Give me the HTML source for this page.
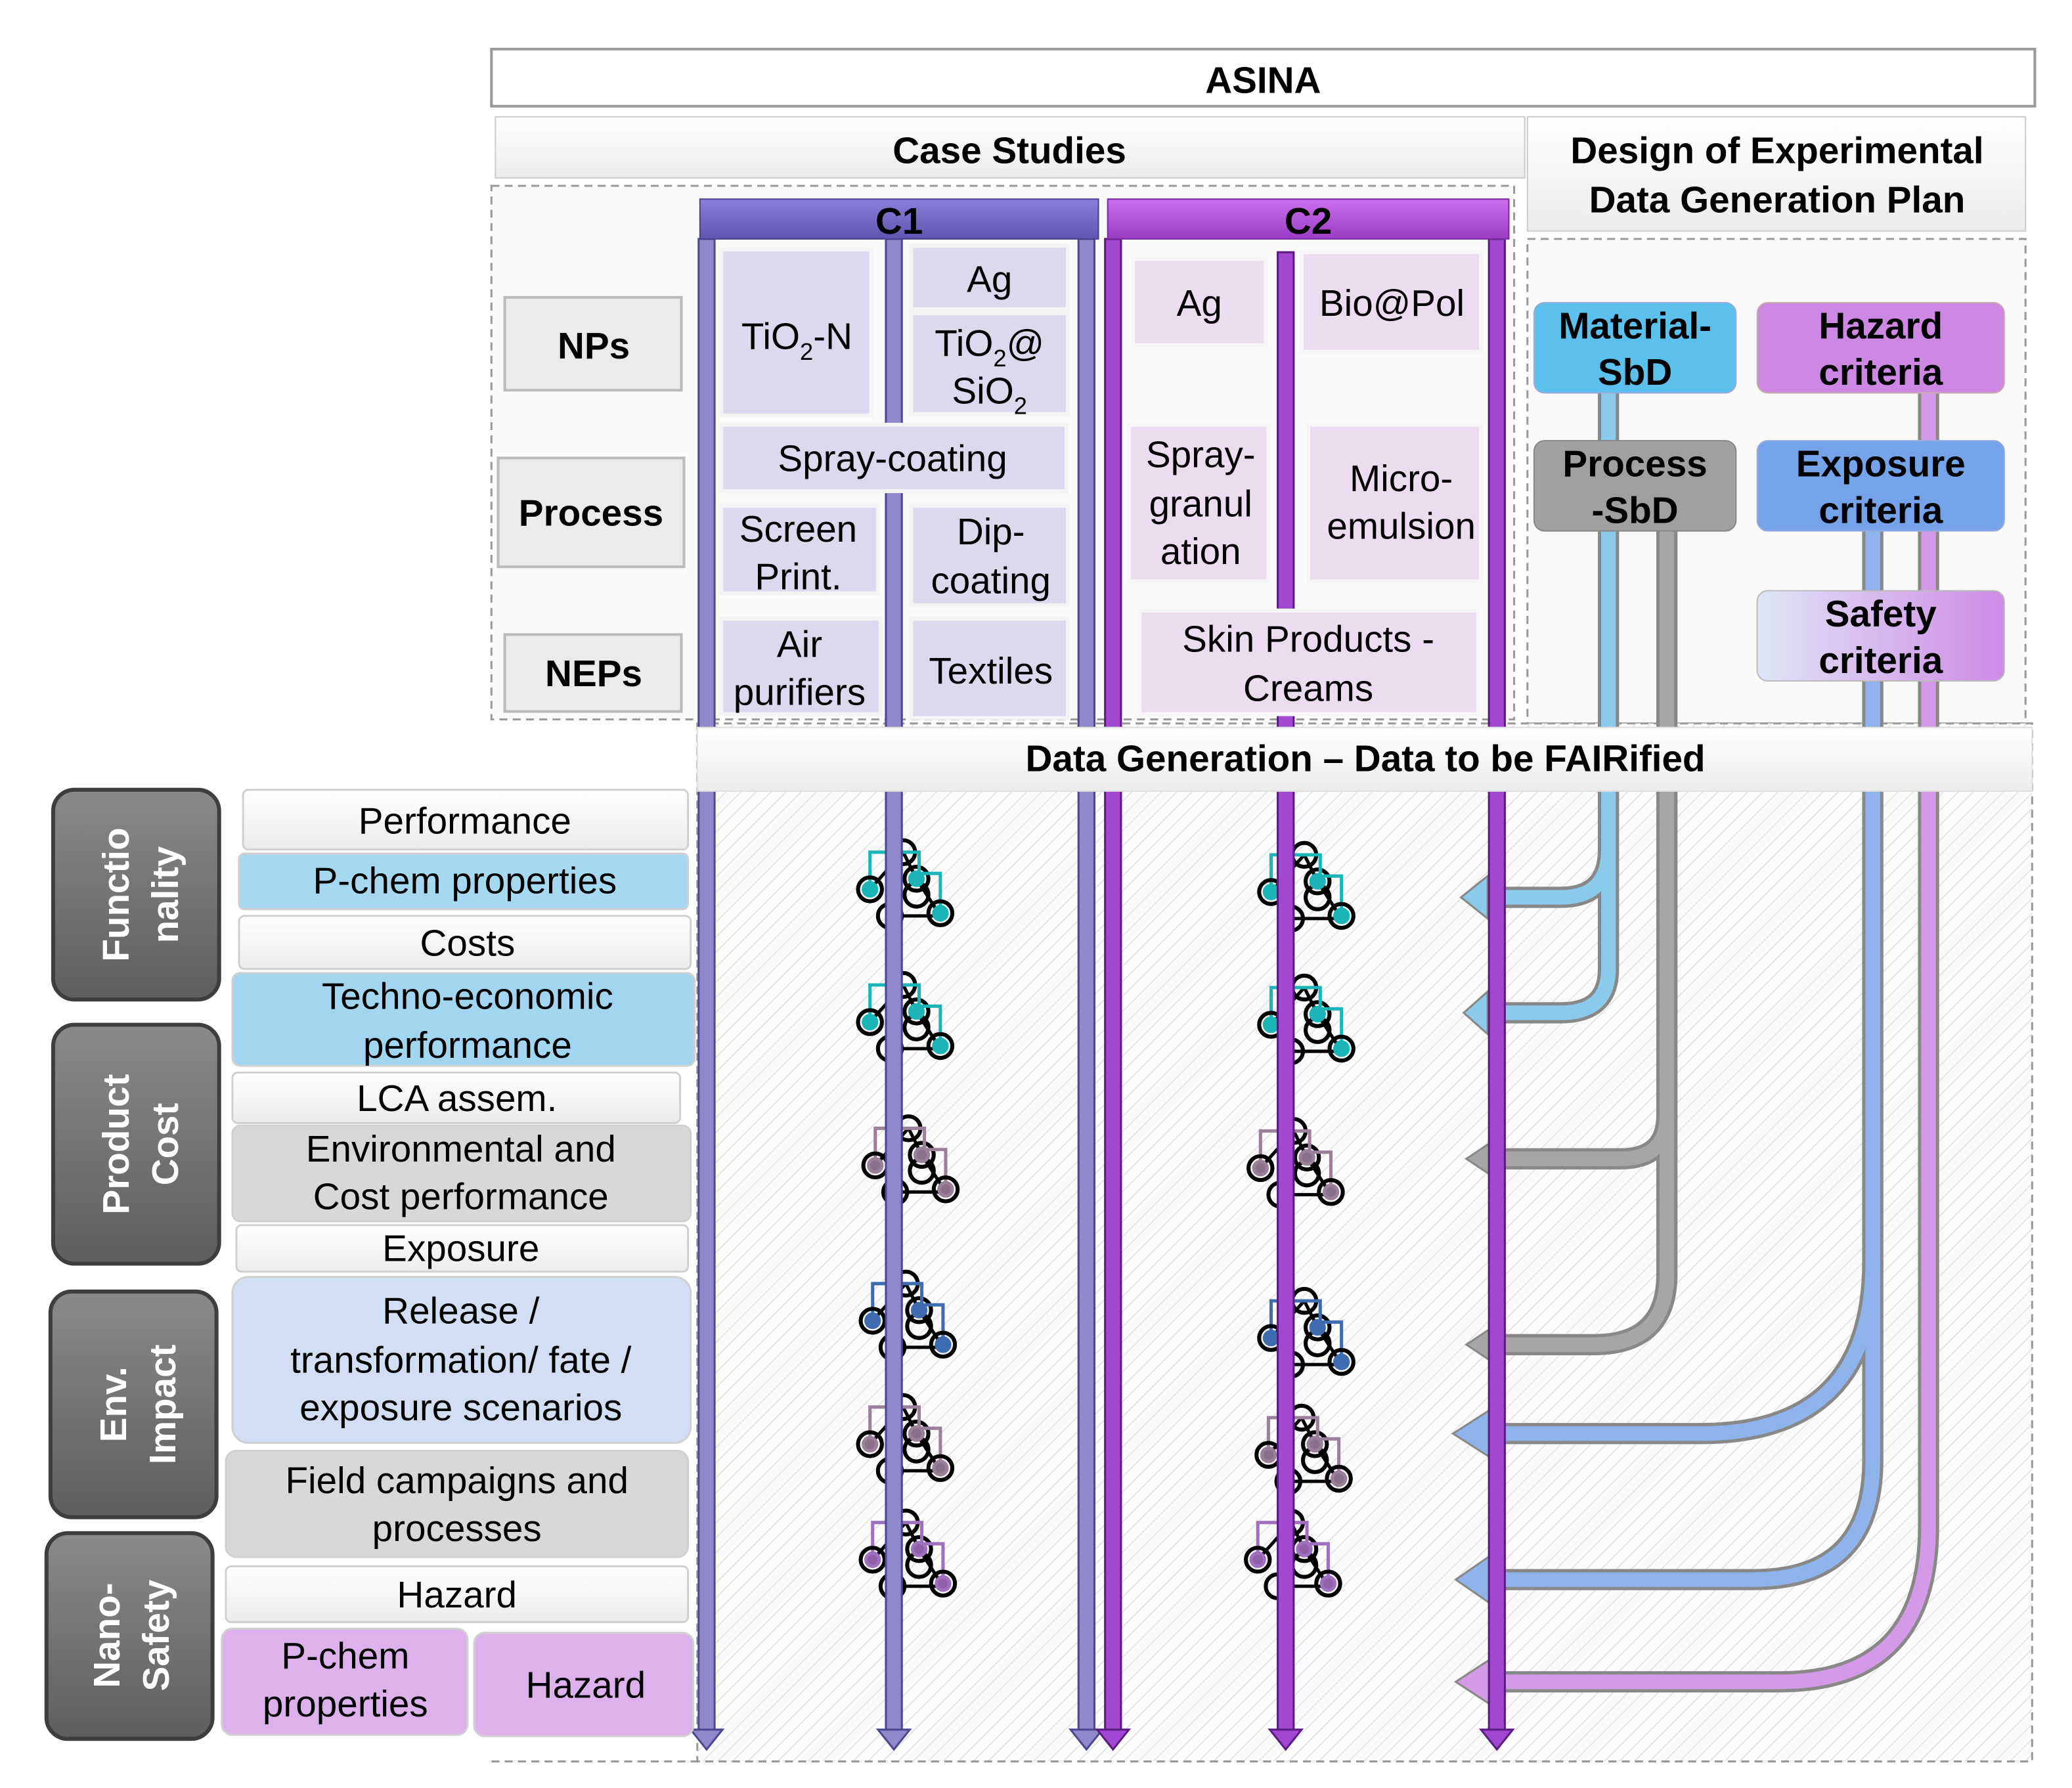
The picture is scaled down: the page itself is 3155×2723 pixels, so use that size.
<!DOCTYPE html>
<html><head><meta charset="utf-8"><style>
html,body{margin:0;padding:0;background:#fff;}
svg{display:block;}
text{font-family:"Liberation Sans",Arial,sans-serif;}
.b{font-weight:bold;}
</style></head><body>
<svg width="3155" height="2723" viewBox="0 0 1560 1347" preserveAspectRatio="none" xmlns="http://www.w3.org/2000/svg">
<defs>
<pattern id="hatch" width="8" height="8" patternUnits="userSpaceOnUse" patternTransform="rotate(45)">
<rect width="8" height="8" fill="#fbfbfb"/><line x1="0" y1="0" x2="0" y2="8" stroke="#e2e2e2" stroke-width="1.5"/>
</pattern>
<linearGradient id="c1g" x1="0" y1="0" x2="0" y2="1"><stop offset="0" stop-color="#8a80dc"/><stop offset="1" stop-color="#5f55b0"/></linearGradient>
<linearGradient id="c2g" x1="0" y1="0" x2="0" y2="1"><stop offset="0" stop-color="#c970ee"/><stop offset="1" stop-color="#9a3cc4"/></linearGradient>
<linearGradient id="grey" x1="0" y1="0" x2="0" y2="1"><stop offset="0" stop-color="#8a8a8a"/><stop offset="1" stop-color="#5e5e5e"/></linearGradient>
<linearGradient id="wh" x1="0" y1="0" x2="0" y2="1"><stop offset="0" stop-color="#ffffff"/><stop offset="1" stop-color="#ececec"/></linearGradient>
<linearGradient id="saf" x1="0" y1="0" x2="1" y2="0"><stop offset="0" stop-color="#dfe6f6"/><stop offset="1" stop-color="#cf8ae6"/></linearGradient>
<g id="mol">
<line x1="-25" y1="0" x2="0" y2="-28" stroke="#000" stroke-width="2.5"/>
<line x1="0" y1="-28" x2="10" y2="-8" stroke="#000" stroke-width="2.5"/>
<line x1="-10" y1="20" x2="28" y2="20" stroke="#000" stroke-width="2.5"/>
<line x1="10" y1="-8" x2="28" y2="20" stroke="#000" stroke-width="2.5"/>
<circle cx="0" cy="-28" r="9" fill="none" stroke="#000" stroke-width="3"/>
<circle cx="10" cy="-8" r="9" fill="none" stroke="#000" stroke-width="3"/>
<circle cx="10" cy="4" r="9" fill="none" stroke="#000" stroke-width="3"/>
<circle cx="-10" cy="20" r="9" fill="none" stroke="#000" stroke-width="3"/>
</g>
</defs>

<!-- top -->
<rect x="370" y="37" width="1162" height="43" fill="#fff" stroke="#999" stroke-width="2"/>
<text x="951" y="70" font-size="28" class="b" text-anchor="middle">ASINA</text>
<rect x="373" y="88" width="775" height="46" fill="url(#wh)" stroke="#ccc"/>
<text x="760" y="123" font-size="28" class="b" text-anchor="middle">Case Studies</text>
<rect x="1150" y="88" width="375" height="86" fill="url(#wh)" stroke="#ccc"/>
<text x="1338" y="123" font-size="28" class="b" text-anchor="middle">Design of Experimental</text>
<text x="1338" y="160" font-size="28" class="b" text-anchor="middle">Data Generation Plan</text>

<!-- dashed regions -->
<rect x="370" y="140" width="770" height="402" fill="#fafafa" stroke="#999" stroke-dasharray="6,4" stroke-width="1.5"/>
<rect x="1150" y="180" width="375" height="365" fill="#fafafa" stroke="#999" stroke-dasharray="6,4" stroke-width="1.5"/>
<rect x="525" y="545" width="1005" height="782" fill="url(#hatch)" stroke="#999" stroke-dasharray="6,4" stroke-width="1.5"/>
<line x1="370" y1="1327" x2="525" y2="1327" stroke="#999" stroke-dasharray="6,4" stroke-width="1.5"/>

<!-- connectors -->
<g fill="none" stroke-linejoin="round">
<g stroke="#888" stroke-width="16">
<path d="M1211 296 V640 Q1211 676 1175 676 H1118"/>
<path d="M1211 640 V730 Q1211 763 1175 763 H1118"/>
<path d="M1255 400 V840 Q1255 873 1220 873 H1118"/>
<path d="M1255 840 V960 Q1255 1013 1200 1013 H1118"/>
<path d="M1410 400 V950 Q1410 1080 1280 1080 H1118"/>
<path d="M1410 950 V1100 Q1410 1190 1320 1190 H1118"/>
<path d="M1452 296 V1150 Q1452 1267 1340 1267 H1118"/>
</g>
<g stroke-width="11">
<path stroke="#8ccaec" d="M1211 296 V640 Q1211 676 1175 676 H1118"/>
<path stroke="#8ccaec" d="M1211 640 V730 Q1211 763 1175 763 H1118"/>
<path stroke="#a6a6a6" d="M1255 400 V840 Q1255 873 1220 873 H1118"/>
<path stroke="#a6a6a6" d="M1255 840 V960 Q1255 1013 1200 1013 H1118"/>
<path stroke="#8fb4ec" d="M1410 400 V950 Q1410 1080 1280 1080 H1118"/>
<path stroke="#8fb4ec" d="M1410 950 V1100 Q1410 1190 1320 1190 H1118"/>
<path stroke="#d49ae8" d="M1452 296 V1150 Q1452 1267 1340 1267 H1118"/>
</g>
</g>
<g stroke="#888" stroke-width="1.5">
<polygon points="1100,676 1120,660 1120,692" fill="#8ccaec"/>
<polygon points="1102,763 1120,747 1120,779" fill="#8ccaec"/>
<polygon points="1104,873 1122,861 1122,885" fill="#a6a6a6"/>
<polygon points="1104,1013 1122,1001 1122,1025" fill="#a6a6a6"/>
<polygon points="1094,1080 1122,1062 1122,1098" fill="#8fb4ec"/>
<polygon points="1096,1190 1122,1172 1122,1208" fill="#8fb4ec"/>
<polygon points="1096,1267 1122,1250 1122,1284" fill="#d49ae8"/>
</g>

<!-- molecules -->
<g>
<g transform="translate(680,670)"><use href="#mol"/><g fill="#1bb5b8" stroke="#1bb5b8" stroke-width="2.5"><path d="M-25 0 V-28 H12 V-12 H28 V18" fill="none"/><circle cx="-25" cy="0" r="5"/><circle cx="10" cy="-8" r="5"/><circle cx="28" cy="18" r="5"/></g><circle cx="-25" cy="0" r="9" fill="none" stroke="#000" stroke-width="3"/><circle cx="28" cy="18" r="9" fill="none" stroke="#000" stroke-width="3"/></g>
<g transform="translate(680,770)"><use href="#mol"/><g fill="#1bb5b8" stroke="#1bb5b8" stroke-width="2.5"><path d="M-25 0 V-28 H12 V-12 H28 V18" fill="none"/><circle cx="-25" cy="0" r="5"/><circle cx="10" cy="-8" r="5"/><circle cx="28" cy="18" r="5"/></g><circle cx="-25" cy="0" r="9" fill="none" stroke="#000" stroke-width="3"/><circle cx="28" cy="18" r="9" fill="none" stroke="#000" stroke-width="3"/></g>
<g transform="translate(982,672)"><use href="#mol"/><g fill="#1bb5b8" stroke="#1bb5b8" stroke-width="2.5"><path d="M-25 0 V-28 H12 V-12 H28 V18" fill="none"/><circle cx="-25" cy="0" r="5"/><circle cx="10" cy="-8" r="5"/><circle cx="28" cy="18" r="5"/></g><circle cx="-25" cy="0" r="9" fill="none" stroke="#000" stroke-width="3"/><circle cx="28" cy="18" r="9" fill="none" stroke="#000" stroke-width="3"/></g>
<g transform="translate(982,772)"><use href="#mol"/><g fill="#1bb5b8" stroke="#1bb5b8" stroke-width="2.5"><path d="M-25 0 V-28 H12 V-12 H28 V18" fill="none"/><circle cx="-25" cy="0" r="5"/><circle cx="10" cy="-8" r="5"/><circle cx="28" cy="18" r="5"/></g><circle cx="-25" cy="0" r="9" fill="none" stroke="#000" stroke-width="3"/><circle cx="28" cy="18" r="9" fill="none" stroke="#000" stroke-width="3"/></g>
<g transform="translate(684,878)"><use href="#mol"/><g fill="#8a7088" stroke="#9a8098" stroke-width="2.5"><path d="M-25 0 V-28 H12 V-12 H28 V18" fill="none"/><circle cx="-25" cy="0" r="5"/><circle cx="10" cy="-8" r="5"/><circle cx="28" cy="18" r="5"/></g><circle cx="-25" cy="0" r="9" fill="none" stroke="#000" stroke-width="3"/><circle cx="28" cy="18" r="9" fill="none" stroke="#000" stroke-width="3"/></g>
<g transform="translate(974,880)"><use href="#mol"/><g fill="#8a7088" stroke="#9a8098" stroke-width="2.5"><path d="M-25 0 V-28 H12 V-12 H28 V18" fill="none"/><circle cx="-25" cy="0" r="5"/><circle cx="10" cy="-8" r="5"/><circle cx="28" cy="18" r="5"/></g><circle cx="-25" cy="0" r="9" fill="none" stroke="#000" stroke-width="3"/><circle cx="28" cy="18" r="9" fill="none" stroke="#000" stroke-width="3"/></g>
<g transform="translate(682,995)"><use href="#mol"/><g fill="#3f6cb0" stroke="#3f6cb0" stroke-width="2.5"><path d="M-25 0 V-28 H12 V-12 H28 V18" fill="none"/><circle cx="-25" cy="0" r="5"/><circle cx="10" cy="-8" r="5"/><circle cx="28" cy="18" r="5"/></g><circle cx="-25" cy="0" r="9" fill="none" stroke="#000" stroke-width="3"/><circle cx="28" cy="18" r="9" fill="none" stroke="#000" stroke-width="3"/></g>
<g transform="translate(982,1008)"><use href="#mol"/><g fill="#3f6cb0" stroke="#3f6cb0" stroke-width="2.5"><path d="M-25 0 V-28 H12 V-12 H28 V18" fill="none"/><circle cx="-25" cy="0" r="5"/><circle cx="10" cy="-8" r="5"/><circle cx="28" cy="18" r="5"/></g><circle cx="-25" cy="0" r="9" fill="none" stroke="#000" stroke-width="3"/><circle cx="28" cy="18" r="9" fill="none" stroke="#000" stroke-width="3"/></g>
<g transform="translate(680,1088)"><use href="#mol"/><g fill="#8a7088" stroke="#9a8098" stroke-width="2.5"><path d="M-25 0 V-28 H12 V-12 H28 V18" fill="none"/><circle cx="-25" cy="0" r="5"/><circle cx="10" cy="-8" r="5"/><circle cx="28" cy="18" r="5"/></g><circle cx="-25" cy="0" r="9" fill="none" stroke="#000" stroke-width="3"/><circle cx="28" cy="18" r="9" fill="none" stroke="#000" stroke-width="3"/></g>
<g transform="translate(980,1096)"><use href="#mol"/><g fill="#8a7088" stroke="#9a8098" stroke-width="2.5"><path d="M-25 0 V-28 H12 V-12 H28 V18" fill="none"/><circle cx="-25" cy="0" r="5"/><circle cx="10" cy="-8" r="5"/><circle cx="28" cy="18" r="5"/></g><circle cx="-25" cy="0" r="9" fill="none" stroke="#000" stroke-width="3"/><circle cx="28" cy="18" r="9" fill="none" stroke="#000" stroke-width="3"/></g>
<g transform="translate(682,1175)"><use href="#mol"/><g fill="#9060a8" stroke="#a070c0" stroke-width="2.5"><path d="M-25 0 V-28 H12 V-12 H28 V18" fill="none"/><circle cx="-25" cy="0" r="5"/><circle cx="10" cy="-8" r="5"/><circle cx="28" cy="18" r="5"/></g><circle cx="-25" cy="0" r="9" fill="none" stroke="#000" stroke-width="3"/><circle cx="28" cy="18" r="9" fill="none" stroke="#000" stroke-width="3"/></g>
<g transform="translate(972,1175)"><use href="#mol"/><g fill="#9060a8" stroke="#a070c0" stroke-width="2.5"><path d="M-25 0 V-28 H12 V-12 H28 V18" fill="none"/><circle cx="-25" cy="0" r="5"/><circle cx="10" cy="-8" r="5"/><circle cx="28" cy="18" r="5"/></g><circle cx="-25" cy="0" r="9" fill="none" stroke="#000" stroke-width="3"/><circle cx="28" cy="18" r="9" fill="none" stroke="#000" stroke-width="3"/></g>
</g>

<!-- vertical arrows -->
<g stroke-width="1.5">
<g fill="#8f89cc" stroke="#4d4790">
<rect x="526" y="180" width="12" height="1125"/>
<polygon points="520,1303 544,1303 532,1318"/>
<rect x="667" y="180" width="12" height="1125"/>
<polygon points="661,1303 685,1303 673,1318"/>
<rect x="812" y="180" width="12" height="1125"/>
<polygon points="806,1303 830,1303 818,1318"/>
</g>
<g fill="#a048d2" stroke="#5a1c80">
<rect x="832" y="180" width="12" height="1125"/>
<polygon points="826,1303 850,1303 838,1318"/>
<rect x="962" y="190" width="12" height="1115"/>
<polygon points="956,1303 980,1303 968,1318"/>
<rect x="1121" y="180" width="12" height="1125"/>
<polygon points="1115,1303 1139,1303 1127,1318"/>
</g>
</g>

<!-- C headers -->
<rect x="527" y="150" width="300" height="30" fill="url(#c1g)" stroke="#4a4190"/>
<text x="677" y="176" font-size="28" class="b" text-anchor="middle">C1</text>
<rect x="834" y="150" width="302" height="30" fill="url(#c2g)" stroke="#7a2aa0"/>
<text x="985" y="176" font-size="28" class="b" text-anchor="middle">C2</text>

<!-- row labels -->
<g font-size="28" class="b" text-anchor="middle">
<rect x="380" y="224" width="133" height="70" fill="#ebebeb" stroke="#bbb" stroke-width="2"/>
<text x="447" y="270">NPs</text>
<rect x="375" y="345" width="140" height="82" fill="#ebebeb" stroke="#bbb" stroke-width="2"/>
<text x="445" y="396">Process</text>
<rect x="380" y="478" width="133" height="58" fill="#ebebeb" stroke="#bbb" stroke-width="2"/>
<text x="447" y="517">NEPs</text>
</g>

<!-- cells -->
<g fill="#dcd8ee" stroke="#f4f4f4" stroke-width="3">
<rect x="543" y="188" width="113" height="125"/>
<rect x="686" y="185" width="118" height="48"/>
<rect x="686" y="236" width="118" height="76"/>
<rect x="543" y="320" width="260" height="50"/>
<rect x="543" y="381" width="118" height="66"/>
<rect x="686" y="381" width="118" height="75"/>
<rect x="543" y="466" width="120" height="72"/>
<rect x="686" y="466" width="118" height="75"/>
</g>
<g fill="#ecdcf0" stroke="#f6f6f6" stroke-width="3">
<rect x="853" y="195" width="100" height="65"/>
<rect x="980" y="190" width="135" height="75"/>
<rect x="850" y="320" width="105" height="118"/>
<rect x="985" y="320" width="130" height="118"/>
<rect x="858" y="460" width="255" height="78"/>
</g>
<g font-size="28" text-anchor="middle">
<text x="600" y="263">TiO<tspan font-size="18" dy="8">2</tspan><tspan dy="-8">-N</tspan></text>
<text x="745" y="220">Ag</text>
<text x="745" y="268">TiO<tspan font-size="18" dy="8">2</tspan><tspan dy="-8">@</tspan></text>
<text x="745" y="304">SiO<tspan font-size="18" dy="8">2</tspan></text>
<text x="672" y="355">Spray-coating</text>
<text x="601" y="408">Screen</text>
<text x="601" y="444">Print.</text>
<text x="746" y="410">Dip-</text>
<text x="746" y="447">coating</text>
<text x="602" y="495">Air</text>
<text x="602" y="531">purifiers</text>
<text x="746" y="515">Textiles</text>
<text x="903" y="238">Ag</text>
<text x="1048" y="238">Bio@Pol</text>
<text x="904" y="352">Spray-</text>
<text x="904" y="389">granul</text>
<text x="904" y="425">ation</text>
<text x="1055" y="370">Micro-</text>
<text x="1055" y="406">emulsion</text>
<text x="985" y="491">Skin Products -</text>
<text x="985" y="528">Creams</text>
</g>

<!-- Data generation bar -->
<rect x="525" y="548" width="1005" height="48" fill="url(#wh)" stroke="#ddd"/>
<text x="1028" y="581" font-size="28" class="b" text-anchor="middle">Data Generation – Data to be FAIRified</text>

<!-- right boxes -->
<g font-size="28" class="b" text-anchor="middle">
<rect x="1155" y="228" width="152" height="68" rx="8" fill="#5cc0ec" stroke="#9ad" />
<text x="1231" y="255">Material-</text><text x="1231" y="290">SbD</text>
<rect x="1323" y="228" width="186" height="68" rx="8" fill="#cc88e2" stroke="#caa"/>
<text x="1416" y="255">Hazard</text><text x="1416" y="290">criteria</text>
<rect x="1155" y="332" width="152" height="68" rx="8" fill="#a0a0a0" stroke="#888"/>
<text x="1231" y="359">Process</text><text x="1231" y="394">-SbD</text>
<rect x="1323" y="332" width="186" height="68" rx="8" fill="#74a3ea" stroke="#9ad"/>
<text x="1416" y="359">Exposure</text><text x="1416" y="394">criteria</text>
<rect x="1323" y="445" width="186" height="68" rx="8" fill="url(#saf)" stroke="#bbb"/>
<text x="1416" y="472">Safety</text><text x="1416" y="507">criteria</text>
</g>

<!-- left categories -->
<g fill="url(#grey)" stroke="#3e3e3e" stroke-width="3">
<rect x="40" y="595" width="125" height="158" rx="16"/>
<rect x="40" y="772" width="125" height="180" rx="16"/>
<rect x="38" y="973" width="125" height="170" rx="16"/>
<rect x="35" y="1155" width="125" height="155" rx="16"/>
</g>
<g fill="#fff" font-size="28" class="b" text-anchor="middle">
<text transform="translate(97,674) rotate(-90)">Functio</text>
<text transform="translate(134,674) rotate(-90)">nality</text>
<text transform="translate(97,862) rotate(-90)">Product</text>
<text transform="translate(134,862) rotate(-90)">Cost</text>
<text transform="translate(95,1058) rotate(-90)">Env.</text>
<text transform="translate(132,1058) rotate(-90)">Impact</text>
<text transform="translate(90,1232) rotate(-90)">Nano-</text>
<text transform="translate(127,1232) rotate(-90)">Safety</text>
</g>

<!-- left items -->
<g stroke="#d0d0d0" stroke-width="1.5">
<rect x="183" y="595" width="335" height="45" rx="4" fill="url(#wh)"/>
<rect x="180" y="643" width="338" height="42" rx="4" fill="#a6d9f0"/>
<rect x="180" y="690" width="340" height="40" rx="4" fill="url(#wh)"/>
<rect x="175" y="733" width="348" height="70" rx="6" fill="#a2d6f0"/>
<rect x="175" y="808" width="337" height="38" rx="4" fill="url(#wh)"/>
<rect x="175" y="848" width="345" height="72" rx="6" fill="#d8d8d8"/>
<rect x="178" y="923" width="340" height="35" rx="4" fill="url(#wh)"/>
<rect x="175" y="962" width="345" height="125" rx="12" fill="#d2def4"/>
<rect x="170" y="1093" width="348" height="80" rx="8" fill="#d8d8d8"/>
<rect x="170" y="1180" width="348" height="42" rx="4" fill="url(#wh)"/>
<rect x="167" y="1227" width="185" height="80" rx="8" fill="#ddb2ec"/>
<rect x="357" y="1230" width="165" height="78" rx="8" fill="#ddb2ec"/>
</g>
<g font-size="28" text-anchor="middle">
<text x="350" y="628">Performance</text>
<text x="350" y="673">P-chem properties</text>
<text x="352" y="720">Costs</text>
<text x="352" y="760">Techno-economic</text>
<text x="352" y="797">performance</text>
<text x="344" y="837">LCA assem.</text>
<text x="347" y="875">Environmental and</text>
<text x="347" y="911">Cost performance</text>
<text x="347" y="950">Exposure</text>
<text x="347" y="997">Release /</text>
<text x="347" y="1034">transformation/ fate /</text>
<text x="347" y="1070">exposure scenarios</text>
<text x="344" y="1125">Field campaigns and</text>
<text x="344" y="1161">processes</text>
<text x="344" y="1211">Hazard</text>
<text x="260" y="1257">P-chem</text>
<text x="260" y="1293">properties</text>
<text x="441" y="1279">Hazard</text>
</g>
</svg>
</body></html>
